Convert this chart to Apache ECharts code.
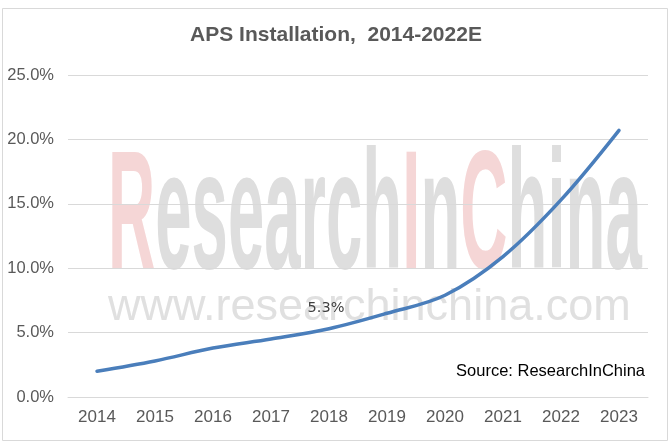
<!DOCTYPE html>
<html>
<head>
<meta charset="utf-8">
<script src="https://cdn.jsdelivr.net/npm/echarts@6/dist/echarts.min.js"></script>
<style>
html,body{margin:0;padding:0;background:#fff;}
#chart{width:672px;height:446px;}
</style>
</head>
<body>
<div id="chart"></div>
<script>
var titleText = 'APS Installation,  2014-2022E';
var years = ['2014','2015','2016','2017','2018','2019','2020','2021','2022','2023'];
var shares = [2.0, 2.8, 3.8, 4.5, 5.3, 6.5, 7.9, 10.9, 15.3, 20.7];
var labeledYears = ['2018'];
var yTicks = [0, 5, 10, 15, 20, 25];
var sourceText = 'Source: ResearchInChina';

var chart = echarts.init(document.getElementById('chart'));
var seriesData = shares.map(function (v, i) {
  var item = { value: v };
  if (labeledYears.indexOf(years[i]) >= 0) {
    item.label = { show: true };
  }
  return item;
});

var wmFont = '"Liberation Sans Narrow", "Liberation Sans", Arial, sans-serif';
var option = {
  animation: false,
  backgroundColor: '#ffffff',
  title: {
    text: titleText,
    left: 'center',
    top: 20,
    textStyle: { fontFamily: '"Liberation Sans", Arial, sans-serif', fontSize: 21, fontWeight: 'bold', color: '#595959' }
  },
  grid: { left: 68, right: 24, top: 75, bottom: 49, containLabel: false },
  xAxis: {
    type: 'category',
    data: years,
    boundaryGap: true,
    axisLine: { show: true, lineStyle: { color: '#d9d9d9', width: 1 } },
    axisTick: { show: false },
    axisLabel: { color: '#595959', fontSize: 17, fontFamily: '"Liberation Sans", Arial, sans-serif', margin: 12 }
  },
  yAxis: {
    type: 'value',
    min: yTicks[0],
    max: yTicks[yTicks.length - 1],
    interval: yTicks[1] - yTicks[0],
    axisLine: { show: false },
    axisTick: { show: false },
    splitLine: { lineStyle: { color: '#d9d9d9', width: 1 } },
    axisLabel: {
      color: '#595959', fontSize: 16.5, fontFamily: '"Liberation Sans", Arial, sans-serif', margin: 14,
      formatter: function (v) { return v.toFixed(1) + '%'; }
    }
  },
  series: [{
    type: 'line',
    data: seriesData,
    smooth: 0.35,
    symbol: 'circle',
    symbolSize: 0.1,
    showSymbol: true,
    lineStyle: { color: '#4a7ebb', width: 3.5, cap: 'round' },
    itemStyle: { color: '#4a7ebb' },
    z: 5,
    label: {
      show: false,
      position: 'top',
      distance: 13,
      offset: [-3, 0],
      color: '#404040',
      fontSize: 14.5,
      fontFamily: '"DejaVu Sans", Verdana, sans-serif',
      formatter: function (p) { return p.value.toFixed(1) + '%'; }
    }
  }],
  graphic: [
    {
      type: 'rect', z: -20, silent: true,
      shape: { x: 2.5, y: 8.5, width: 665, height: 432 },
      style: { fill: 'none', stroke: '#d9d9d9', lineWidth: 1 }
    },
    {
      type: 'text', z: -10, silent: true,
      x: 108, y: 138, scaleX: 0.389, scaleY: 1,
      style: {
        text: '{r|R}{g|esearch}{r|I}{g|n}{r|C}{g|hina}',
        verticalAlign: 'top',
        align: 'left',
        rich: {
          r: { fill: '#f5d6d6', fontSize: 168, fontWeight: 'bold', fontFamily: wmFont, lineHeight: 168 },
          g: { fill: '#dedede', fontSize: 168, fontWeight: 'bold', fontFamily: wmFont, lineHeight: 168 }
        }
      }
    },
    {
      type: 'text', z: -10, silent: true,
      x: 108, y: 330,
      style: {
        text: 'www.researchinchina.com',
        fill: '#e0e0e0',
        fontSize: 45,
        fontFamily: '"Liberation Sans", Arial, sans-serif',
        verticalAlign: 'bottom',
        align: 'left'
      }
    },
    {
      type: 'text', z: 10, silent: true,
      x: 645, y: 371,
      style: {
        text: sourceText,
        fill: '#000000',
        fontSize: 16.5,
        fontFamily: '"Liberation Sans", Arial, sans-serif',
        verticalAlign: 'middle',
        align: 'right'
      }
    }
  ]
};
chart.setOption(option);
</script>
</body>
</html>
